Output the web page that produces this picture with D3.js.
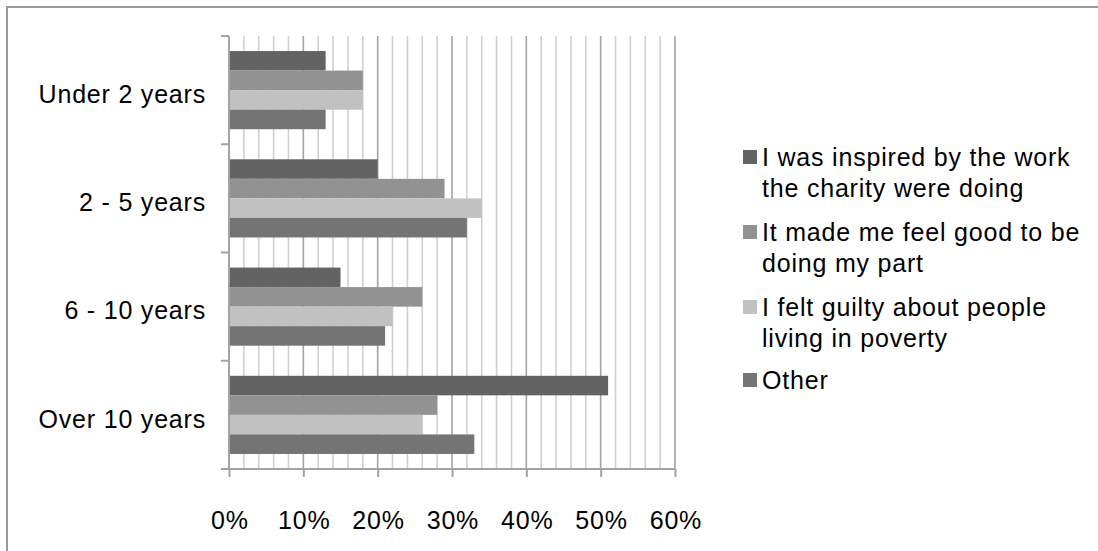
<!DOCTYPE html>
<html>
<head>
<meta charset="utf-8">
<script src="https://cdn.jsdelivr.net/npm/d3@7"></script>
<style>
  html, body { margin: 0; padding: 0; background: #fff; }
  svg { display: block; font-family: "Liberation Sans", Arial, sans-serif; }
  text { letter-spacing: 0.8px; }
</style>
</head>
<body>
<svg id="chart" width="1098" height="551"></svg>
<script>
// Length of time giving, one group of bars per band
const categories = ["Under 2 years", "2 - 5 years", "6 - 10 years", "Over 10 years"];

// Reasons for giving (legend text, wrapped by line)
const seriesNames = [
  ["I was inspired by the work", "the charity were doing"],
  ["It made me feel good to be", "doing my part"],
  ["I felt guilty about people", "living in poverty"],
  ["Other"]
];

// Share of respondents (%) per category, in category order
const inspired = [13, 20, 15, 51];
const feelGood = [18, 29, 26, 28];
const guilty   = [18, 34, 22, 26];
const other    = [13, 32, 21, 33];

const xTicks = [0, 10, 20, 30, 40, 50, 60];
const minorTicks = d3.range(0, 61, 2);

const seriesValues = [inspired, feelGood, guilty, other];
const colors = ["#636363", "#929292", "#c1c1c1", "#747474"];

const svg = d3.select("#chart");
const plot = { left: 229, right: 675, top: 36, bottom: 469 };
const fontSize = 25;

// Outer chart frame
svg.append("rect")
  .attr("x", 7).attr("y", 7)
  .attr("width", 1200).attr("height", 700)
  .attr("fill", "#fff")
  .attr("stroke", "#9a9a9a").attr("stroke-width", 2);

const x = d3.scaleLinear().domain([0, 60]).range([plot.left, plot.right]);
const y0 = d3.scaleBand().domain(categories)
  .range([plot.top, plot.bottom])
  .paddingInner(0.278).paddingOuter(0.139);
const y1 = d3.scaleBand().domain(d3.range(seriesValues.length))
  .range([0, y0.bandwidth()]);

// Gridlines: light every 2%, darker every 10%
svg.append("g").selectAll("line")
  .data(minorTicks.filter(t => t % 10 !== 0))
  .join("line")
  .attr("x1", d => x(d)).attr("x2", d => x(d))
  .attr("y1", plot.top).attr("y2", plot.bottom)
  .attr("stroke", "#d0d0d0").attr("stroke-width", 1.6);

svg.append("g").selectAll("line")
  .data(xTicks.filter(t => t > 0))
  .join("line")
  .attr("x1", d => x(d)).attr("x2", d => x(d))
  .attr("y1", plot.top).attr("y2", plot.bottom)
  .attr("stroke", "#a3a3a3").attr("stroke-width", 1.6);

// Bars
const groups = svg.append("g").selectAll("g")
  .data(categories)
  .join("g")
  .attr("transform", d => `translate(0,${y0(d)})`);

groups.selectAll("rect")
  .data((c, i) => seriesValues.map((vals, s) => ({ s, v: vals[i] })))
  .join("rect")
  .attr("x", x(0))
  .attr("y", d => y1(d.s))
  .attr("width", d => x(d.v) - x(0))
  .attr("height", y1.bandwidth())
  .attr("fill", d => colors[d.s]);

// X axis
const xAxis = d3.axisBottom(x)
  .tickValues(xTicks)
  .tickFormat(d => d + "%")
  .tickSize(8)
  .tickPadding(34);

const gx = svg.append("g")
  .attr("transform", `translate(0,${plot.bottom})`)
  .call(xAxis);
gx.select(".domain").remove();
gx.append("line")
  .attr("x1", plot.left - 8).attr("x2", plot.right)
  .attr("stroke", "#a3a3a3").attr("stroke-width", 2);
gx.selectAll(".tick line").attr("stroke", "#a3a3a3").attr("stroke-width", 2);
gx.selectAll(".tick text")
  .attr("fill", "#000")
  .attr("dx", "0.4px")
  .style("font-size", fontSize + "px")
  .style("font-family", "'Liberation Sans', Arial, sans-serif");

// Y axis: line with ticks at band boundaries
const gy = svg.append("g");
gy.append("line")
  .attr("x1", plot.left).attr("x2", plot.left)
  .attr("y1", plot.top).attr("y2", plot.bottom)
  .attr("stroke", "#a3a3a3").attr("stroke-width", 2);
const step = y0.step();
gy.selectAll("line.tk")
  .data(d3.range(categories.length + 1))
  .join("line")
  .attr("class", "tk")
  .attr("x1", plot.left - 8).attr("x2", plot.left)
  .attr("y1", i => plot.top + i * step)
  .attr("y2", i => plot.top + i * step)
  .attr("stroke", "#a3a3a3").attr("stroke-width", 2);

gy.selectAll("text")
  .data(categories)
  .join("text")
  .attr("x", 206)
  .attr("y", d => y0(d) + y0.bandwidth() / 2 + 4)
  .attr("dy", "0.35em")
  .attr("text-anchor", "end")
  .style("font-size", fontSize + "px")
  .text(d => d);

// Legend
const legendTop = [157, 232, 307, 380];
const legend = svg.append("g");
seriesNames.forEach((lines, s) => {
  const cy = legendTop[s];
  legend.append("rect")
    .attr("x", 743).attr("y", cy - 7)
    .attr("width", 14).attr("height", 14)
    .attr("fill", colors[s]);
  const t = legend.append("text")
    .attr("x", 762).attr("y", cy)
    .attr("dy", "0.35em")
    .style("font-size", fontSize + "px");
  lines.forEach((ln, k) => {
    t.append("tspan")
      .attr("x", 762)
      .attr("y", cy + k * 31)
      .attr("dy", "0.35em")
      .text(ln);
  });
});
</script>
</body>
</html>
